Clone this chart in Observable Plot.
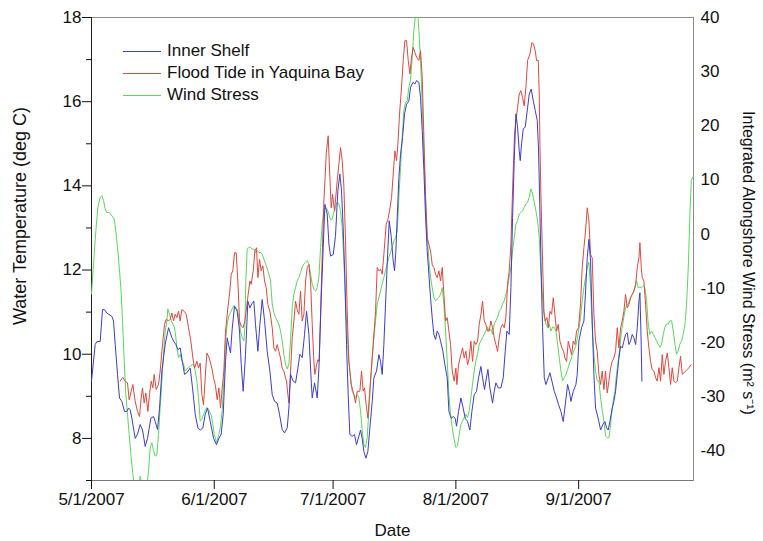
<!DOCTYPE html>
<html><head><meta charset="utf-8">
<script src="https://cdn.jsdelivr.net/npm/d3@7"></script>
<script src="https://cdn.jsdelivr.net/npm/@observablehq/plot@0.6"></script>
<style>
body{margin:0;background:#fff;font-family:"Liberation Sans",Arial,sans-serif;}
#wrap{position:relative;width:763px;height:541px;}
.legend{position:absolute;left:123px;top:40px;font-size:17px;color:#111;line-height:22px;}
.legend .row{display:flex;align-items:center;height:22px;}
.legend .sw{display:inline-block;width:38px;height:0;border-top:1px solid;margin-right:6px;}
</style>
</head><body>
<div id="wrap"></div>
<script>
// ---- data (day offsets from 5/1/2007) ----
const seriesNames = ["Inner Shelf", "Flood Tide in Yaquina Bay", "Wind Stress"];
const monthTicks = ["2007-05-01", "2007-06-01", "2007-07-01", "2007-08-01", "2007-09-01"];
const tempMajorTicks = [8, 10, 12, 14, 16, 18];
const tempMinorTicks = [7, 9, 11, 13, 15, 17];
const windTicks = [-40, -30, -20, -10, 0, 10, 20, 30, 40];

const innerShelfDay = [0,0.93,1.35,2.19,2.78,3.28,3.87,5.14,5.56,5.98,6.57,7.07,7.66,8.34,8.93,9.35,9.77,10.19,11.03,11.62,12.29,12.88,13.56,14.14,14.99,15.66,16.08,16.67,17.18,17.77,18.61,19.45,20.29,20.71,21.3,21.81,22.4,22.99,23.49,24.08,24.92,25.51,26.19,26.86,27.45,28.12,28.71,29.3,29.98,30.82,31.57,32.16,32.74,33.25,33.84,34.26,34.68,35.1,35.52,36.11,36.79,37.38,37.8,38.3,38.89,39.48,39.99,40.49,40.99,41.42,42.01,42.51,43.1,43.69,44.36,45.04,45.63,46.22,46.89,47.48,48.15,48.74,49.42,49.84,50.26,50.93,51.52,52.11,52.62,53.2,53.79,54.3,54.89,55.48,55.73,56.32,56.99,57.42,58.0,58.51,58.93,59.52,59.94,60.36,61.04,61.6,62.2,62.71,63.13,63.55,63.97,64.39,64.81,65.23,65.82,66.41,66.92,67.51,67.93,68.35,68.77,69.28,69.78,70.29,70.88,71.3,71.97,72.56,72.98,73.4,73.82,74.24,74.66,75.17,75.67,76.18,76.52,76.85,77.19,77.61,78.03,78.54,79.04,79.55,80.14,80.56,81.15,81.65,82.07,82.66,83.08,83.5,83.93,84.35,84.77,85.19,85.61,86.03,86.45,86.87,87.29,87.72,88.14,88.73,89.23,89.82,90.24,90.83,91.34,91.83,92.17,92.68,93.27,93.85,94.36,94.95,95.54,96.04,96.63,97.22,97.73,98.32,98.74,99.24,99.58,100.09,100.59,101.26,101.69,102.11,102.7,103.37,103.96,104.46,104.88,105.47,105.9,106.32,106.74,107.16,107.58,108.0,108.25,108.59,109.01,109.52,110.11,110.53,111.03,111.54,112.04,112.55,112.88,113.22,113.56,113.89,114.32,114.74,115.33,115.75,116.25,116.84,117.43,117.94,118.53,119.11,119.62,120.21,120.63,121.05,121.64,122.31,122.64,123.06,123.74,124.33,124.75,125.17,125.59,126.01,126.43,126.85,127.27,127.69,128.11,128.54,129.12,129.63,130.05,130.47,130.89,131.48,131.9,132.32,132.75,133.17,133.59,134.01,134.43,134.85,135.27,135.69,136.11,136.53,136.96,137.38,137.8,138.22,138.47,138.72,138.98];
const innerShelfTemp = [9.36,10.23,10.3,10.3,11.06,11.06,10.98,10.9,10.79,10.24,9.52,8.96,8.88,8.64,8.64,8.72,8.68,8.48,8.0,8.1,8.33,8.2,7.81,8.0,8.48,8.52,8.4,8.21,8.72,9.6,10.24,10.63,10.4,10.31,10.23,10.11,10.15,9.8,9.52,9.56,9.67,9.2,8.57,8.25,8.2,8.25,8.57,8.72,8.4,8.0,7.85,8.0,8.1,8.57,9.83,10.39,10.2,10.03,10.6,11.14,11.02,10.55,9.76,9.12,10.0,11.26,11.1,11.2,11.26,10.7,10.07,10.7,11.3,10.8,10.07,9.6,9.04,8.88,8.84,8.57,8.21,8.13,8.25,8.72,9.52,9.36,9.32,9.67,10.0,9.92,10.47,11.02,10.47,9.36,8.96,9.32,8.96,9.67,11.34,12.53,13.56,13.33,12.62,12.33,12.37,12.8,13.88,14.28,13.88,13.0,11.82,10.23,9.04,8.09,8.05,8.09,7.85,8.05,8.2,8.0,7.69,7.53,7.69,8.25,8.88,9.44,9.6,9.99,9.83,9.52,10.23,11.18,12.13,13.17,12.8,12.21,11.98,12.45,13.25,14.2,14.75,15.15,15.71,15.94,16.02,16.34,16.46,16.42,16.5,16.46,16.1,15.31,14.36,13.25,12.45,11.9,11.34,10.86,10.47,10.35,10.55,10.47,10.31,10.07,9.75,9.44,8.64,8.48,8.52,8.48,8.29,8.64,8.96,8.72,8.48,8.4,8.2,8.64,9.04,9.12,9.44,9.71,9.44,9.16,9.36,9.64,9.2,8.84,9.12,9.32,9.2,9.2,9.44,10.07,10.55,10.47,11.58,13.25,14.6,15.71,15.4,14.83,14.6,15.0,15.35,15.4,15.86,16.18,16.3,16.02,15.79,15.55,14.83,13.4,11.82,10.63,9.44,9.28,9.44,9.56,9.36,9.12,8.96,8.8,8.64,8.4,8.8,9.28,9.12,8.88,9.12,9.28,9.52,10.31,10.63,10.79,11.5,12.29,12.73,12.21,10.79,9.52,8.72,8.57,8.4,8.2,8.33,8.4,8.25,8.2,8.4,8.72,8.88,9.12,9.52,9.91,10.19,10.15,10.31,10.47,10.51,10.23,10.31,10.47,10.39,10.23,10.63,11.26,11.46,10.55,9.36];

const floodTideDay = [7.24,7.91,8.5,9.09,9.51,10.02,10.44,11.03,11.62,12.12,12.54,12.88,13.3,13.72,14.23,14.65,15.07,15.49,15.83,16.33,16.92,17.34,17.77,18.44,18.86,19.45,19.87,20.29,20.71,21.13,21.55,21.98,22.4,22.82,23.41,23.91,24.5,25.09,25.6,26.02,26.61,27.03,27.45,27.87,28.29,28.71,29.13,29.72,30.39,30.82,31.3,31.73,32.16,32.58,33.0,33.42,33.84,34.43,34.93,35.27,35.69,36.11,36.53,36.95,37.38,37.8,38.3,38.72,39.14,39.56,39.99,40.32,40.83,41.25,41.67,42.01,42.43,42.85,43.27,43.69,44.11,44.53,45.04,45.63,46.05,46.47,46.89,47.31,47.73,48.15,48.57,48.99,49.25,49.58,49.84,50.26,50.68,51.1,51.52,51.94,52.36,52.78,53.2,53.63,54.05,54.47,54.89,55.31,55.73,56.15,56.4,56.83,57.16,57.5,57.84,58.26,58.68,58.93,59.3,59.76,60.1,60.52,60.86,61.36,62.04,62.88,63.3,63.72,64.14,64.56,64.98,65.57,66.24,66.67,67.09,67.76,68.18,68.6,68.94,69.36,69.78,70.2,70.62,71.13,71.72,72.14,72.56,72.98,73.4,73.82,74.41,74.83,75.25,75.76,76.18,76.6,77.02,77.36,77.78,78.28,78.71,79.13,79.55,79.97,80.39,80.81,81.23,81.65,82.07,82.66,83.08,83.5,83.93,84.35,84.77,85.19,85.61,86.03,86.45,86.87,87.29,87.72,88.14,88.56,88.98,89.4,89.82,90.24,90.66,91.08,91.58,92.0,92.25,92.68,93.27,93.69,94.11,94.53,94.95,95.37,95.79,96.21,96.63,97.05,97.47,97.9,98.32,98.74,99.16,99.58,100.0,100.42,100.84,101.26,101.69,102.11,102.53,102.95,103.37,103.79,104.21,104.63,105.05,105.47,105.9,106.15,106.48,106.82,107.16,107.58,108.0,108.42,108.84,109.26,109.68,110.11,110.69,111.2,111.62,112.04,112.38,112.8,113.05,113.22,113.47,113.89,114.23,114.57,114.99,115.33,115.75,116.17,116.59,117.01,117.43,117.85,118.27,118.78,119.2,119.54,119.96,120.38,120.8,121.22,121.64,122.06,122.48,122.99,123.48,123.9,124.33,124.75,125.17,125.59,126.01,126.43,126.85,127.27,127.69,128.11,128.54,128.96,129.38,129.8,130.22,130.64,131.06,131.48,131.9,132.32,132.75,133.17,133.59,134.01,134.43,134.85,135.27,135.69,136.11,136.53,136.96,137.38,137.8,138.22,138.47,138.81,139.06,139.48,139.9,140.32,140.74,141.16,141.58,142.0,142.43,142.85,143.27,143.69,144.11,144.53,144.95,145.38,145.8,146.22,146.64,147.06,147.48,147.9,148.32,148.74,149.17,149.59,150.01,150.43,150.85,151.35];
const floodTideTemp = [9.36,9.45,9.36,9.32,8.92,9.12,9.28,8.88,8.64,8.52,8.96,9.2,8.84,9.08,8.64,9.04,9.36,9.2,9.52,9.16,9.28,9.6,10.07,10.71,10.83,10.79,10.83,10.98,10.79,10.95,10.87,11.02,10.79,11.06,11.02,10.95,10.63,10.31,9.91,9.67,9.83,9.67,9.79,9.04,8.8,9.44,10.03,9.91,9.67,9.44,9.25,8.92,9.2,8.72,9.2,9.6,10.55,11.1,11.5,11.9,11.98,12.41,12.41,11.74,10.79,10.67,10.63,10.79,11.1,11.42,11.74,11.66,11.98,12.45,12.53,11.82,12.25,11.98,12.1,11.74,11.58,11.18,11.02,10.63,10.15,10.07,10.23,10.07,9.91,9.67,9.6,9.44,9.36,9.04,8.84,9.6,10.39,10.79,11.26,11.06,10.95,11.5,10.79,10.95,11.74,12.06,12.13,11.74,10.71,9.83,9.52,9.75,9.87,9.83,10.95,12.37,13.64,14.12,14.8,15.19,14.4,13.48,13.8,13.4,14.12,14.91,14.6,14.0,12.7,11.02,9.83,9.28,9.04,8.84,9.12,9.12,9.6,9.12,9.2,8.8,8.48,9.04,9.6,10.23,11.02,12.06,11.98,12.02,11.9,12.37,13.09,13.2,13.4,13.72,14.28,14.83,14.6,14.99,15.71,16.34,16.98,17.45,17.45,16.98,16.66,17.06,17.29,17.17,17.06,16.98,17.21,16.58,15.15,13.72,12.77,12.61,12.45,12.13,12.06,11.9,11.82,11.98,11.74,12.06,11.42,10.79,10.87,10.55,10.23,9.6,9.36,9.67,9.28,9.75,9.99,10.15,9.91,10.07,9.75,9.91,10.31,9.83,10.31,10.23,10.31,10.71,10.95,11.26,10.79,10.71,10.55,10.55,10.79,10.63,10.39,10.23,10.07,10.39,10.63,10.71,10.63,10.87,11.66,11.98,12.61,13.4,14.36,15.23,15.55,15.86,16.18,16.26,16.1,15.9,16.34,16.98,17.13,17.41,17.37,17.21,16.98,16.98,16.18,14.99,13.8,12.21,11.02,10.79,10.87,10.63,11.02,10.95,11.34,10.95,10.55,10.71,10.31,10.15,10.07,9.91,9.83,10.31,10.15,9.99,10.31,10.23,10.55,10.63,11.2,12.06,12.53,12.93,13.48,13.17,12.37,12.29,10.95,10.31,10.07,9.52,9.28,9.6,9.16,9.6,9.08,9.36,9.67,9.83,9.91,10.07,10.63,10.15,10.63,10.79,11.02,11.42,11.1,11.18,11.34,11.42,11.5,11.66,12.06,12.29,12.65,12.06,11.82,11.74,11.18,10.55,10.15,9.83,9.63,9.6,9.44,9.36,9.68,9.36,9.99,9.52,9.83,10.03,9.68,9.28,9.68,9.36,9.32,9.36,9.68,9.95,9.52,9.56,9.6,9.64,9.68,9.75];

const windStressDay = [0,0.51,1.09,1.6,2.19,2.61,3.03,3.45,3.87,4.46,5.14,5.73,6.15,6.82,7.41,7.83,8.25,8.67,9.09,9.51,10.02,10.44,10.86,11.4,11.9,12.29,12.71,13.56,13.98,14.4,14.82,15.24,15.66,16.08,16.5,16.92,17.34,17.77,18.19,18.61,19.03,19.28,19.7,20.12,20.54,20.96,21.3,21.55,21.98,22.4,22.82,23.24,23.66,24.5,25.09,25.6,26.02,26.61,27.03,27.45,27.87,28.29,28.71,29.13,29.72,30.23,30.6,31.0,31.57,32.16,32.58,33.0,33.42,33.84,34.26,34.68,35.1,35.52,35.94,36.36,36.79,37.21,37.63,38.05,38.47,38.72,38.97,39.31,39.73,40.15,40.57,40.99,41.42,41.84,42.26,42.68,43.1,43.52,43.94,44.36,44.78,45.2,45.63,46.05,46.47,46.89,47.31,47.73,48.15,48.57,48.99,49.42,49.84,50.26,50.68,51.1,51.52,51.94,52.36,52.78,53.2,53.63,54.05,54.47,54.89,55.31,55.73,56.15,56.57,56.99,57.42,57.84,58.26,58.68,59.1,59.52,59.94,60.36,60.78,61.2,61.63,62.03,62.46,62.88,63.3,63.72,64.14,64.56,64.98,65.4,65.82,66.24,66.67,67.09,67.51,67.93,68.35,68.77,69.19,69.61,70.03,70.45,70.88,71.3,71.72,72.14,72.56,72.98,73.4,73.82,74.24,74.66,75.08,75.5,75.92,76.35,76.77,77.19,77.61,78.03,78.45,78.87,79.3,79.72,80.14,80.56,80.98,81.4,81.82,82.07,82.41,82.66,83.08,83.5,83.93,84.35,84.77,85.19,85.61,86.03,86.45,86.87,87.29,87.72,88.14,88.56,88.98,89.4,89.82,90.24,90.66,91.08,91.5,92.0,92.42,92.84,93.27,93.69,94.11,94.53,94.95,95.37,95.79,96.21,96.63,97.05,97.47,97.9,98.32,98.74,99.16,99.58,100.0,100.42,100.84,101.26,101.69,102.11,102.53,102.95,103.37,103.79,104.21,104.63,105.05,105.47,105.9,106.32,106.74,107.16,107.58,108.0,108.42,108.84,109.26,109.68,110.11,110.53,110.95,111.37,111.79,112.21,112.63,113.05,113.47,113.89,114.32,114.74,115.16,115.58,116.0,116.42,116.84,117.26,117.68,118.1,118.53,118.95,119.37,119.79,120.21,120.63,121.05,121.47,121.89,122.22,122.64,123.06,123.48,123.9,124.33,124.75,125.17,125.59,126.01,126.43,126.85,127.27,127.69,128.11,128.54,128.96,129.38,129.8,130.22,130.64,130.89,131.31,131.73,132.15,132.57,132.99,133.41,133.84,134.26,134.68,135.1,135.52,135.94,136.36,136.78,137.2,137.63,138.05,138.47,138.89,139.31,139.73,140.15,140.57,140.99,141.41,141.83,142.25,142.68,143.1,143.52,143.94,144.36,144.78,145.2,145.62,146.05,146.47,146.89,147.31,147.73,148.15,148.57,148.99,149.42,149.84,150.26,150.68,151.1,151.44,151.8];
const windStressValue = [-11.07,-5.5,0.55,4.94,6.8,7.1,6.2,4.64,4.0,4.0,3.4,2.8,0.55,-4.4,-9.9,-16.0,-23.4,-29.6,-33.3,-37.0,-41.3,-44.3,-46.5,-48,-47,-44.7,-46.5,-48,-46.5,-43.7,-39.4,-38.5,-40.0,-41.0,-40.8,-37.0,-32.0,-27.1,-22.2,-17.9,-16.0,-13.8,-14.8,-16.0,-16.6,-17.2,-19.1,-20.9,-22.8,-22.2,-23.4,-24.0,-25.3,-24.6,-24.3,-24.0,-24.6,-27.1,-30.2,-34.5,-34.2,-33.3,-32.6,-32.0,-32.6,-33.5,-35.0,-37.0,-38.5,-37.0,-35.4,-32.6,-27.1,-19.7,-16.6,-15.1,-14.5,-13.8,-13.2,-13.5,-13.8,-15.4,-17.9,-19.1,-19.7,-17.2,-8.6,-2.76,-2.45,-2.45,-2.76,-2.76,-3.4,-3.1,-3.4,-3.4,-3.7,-4.6,-5.5,-6.4,-7.4,-8.6,-12.9,-14.5,-15.4,-16.0,-16.6,-17.9,-19.7,-22.2,-24.0,-24.9,-24.0,-19.7,-13.5,-11.1,-9.9,-8.6,-8.0,-7.1,-6.1,-5.5,-5.2,-4.9,-5.5,-7.4,-9.2,-10.2,-10.5,-9.9,-8.0,-2.45,1.87,4.33,4.94,4.6,3.7,2.65,2.8,4.0,5.1,5.9,5.56,4.33,1.2,-4.9,-12.3,-18.5,-23.4,-26.5,-29.0,-29.6,-30.2,-29.6,-30.2,-32.6,-36.3,-38.8,-39.4,-37.6,-32.6,-27.7,-22.8,-19.1,-16.0,-12.9,-11.7,-10.5,-9.2,-8.0,-6.7,-5.5,-4.3,-3.4,-2.5,-1.3,-0.7,0.55,6.8,12.3,17.9,22.8,24.3,24.6,27.1,28.4,32.7,37.6,40.5,42,40.5,37.6,32.1,24.0,14.8,6.8,0,-4.9,-8.0,-9.9,-11.7,-12.3,-12.0,-11.7,-11.1,-9.9,-12.9,-17.9,-23.4,-29.6,-33.3,-35.7,-37.6,-39.4,-39.1,-37.0,-35.1,-34.5,-33.9,-33.3,-33.9,-32.6,-30.2,-27.7,-25.3,-23.4,-22.2,-20.3,-19.7,-19.1,-18.5,-17.9,-17.2,-17.9,-17.6,-18.5,-16.6,-16.0,-15.4,-14.2,-13.9,-12.9,-12.3,-11.1,-9.9,-8.0,-6.1,-3.1,-0.6,1.87,2.5,3.7,4.0,4.33,4.94,5.56,5.9,6.8,8.34,7.4,5.9,4.33,2.5,-0.6,-6.8,-11.7,-15.4,-16.6,-17.2,-16.6,-17.9,-17.2,-17.2,-17.9,-20.3,-22.8,-25.3,-27.1,-26.5,-25.9,-25.0,-24.0,-23.1,-22.2,-21.3,-20.8,-19.4,-17.5,-15.4,-12.3,-9.9,-8.0,-6.1,-5.2,-9.9,-17.2,-22.2,-25.3,-27.1,-27.1,-30.2,-32.6,-34.5,-37.3,-37.6,-37.6,-36.4,-33.3,-30.8,-29.0,-25.9,-23.4,-20.9,-17.9,-16.0,-14.2,-13.2,-12.9,-12.0,-11.4,-10.7,-9.9,-8.6,-9.9,-9.8,-9.9,-9.6,-9.9,-12.3,-16.6,-18.5,-17.9,-18.5,-19.1,-19.7,-20.3,-20.9,-20.3,-18.5,-17.2,-16.6,-16.6,-16.0,-16.0,-17.9,-20.3,-22.2,-21.5,-20.3,-19.7,-18.5,-16.6,-12.9,-6.1,3.7,9.9,10.5];

const seriesColors = ["#3c3cd2", "#e0483e", "#5ad85a"];

// ---- build ----
const START = Date.UTC(2007, 4, 1), DAY = 864e5;
const toDate = d => new Date(START + d * DAY);
const rows = (days, vals) => days.map((d, i) => ({date: toDate(d), value: vals[i]}));
const T0 = 7, T1 = 18, W0 = -45.5, W1 = 40;
const toTemp = w => T0 + (w - W0) * (T1 - T0) / (W1 - W0);
const fromTemp = t => W0 + (t - T0) * (W1 - W0) / (T1 - T0);
const fmtDate = d => `${d.getUTCMonth() + 1}/${d.getUTCDate()}/${d.getUTCFullYear()}`;

const inner = rows(innerShelfDay, innerShelfTemp);
const flood = rows(floodTideDay, floodTideTemp);
const wind = rows(windStressDay, windStressValue);

const chart = Plot.plot({
  width: 763, height: 541,
  marginLeft: 91, marginRight: 70, marginTop: 17, marginBottom: 61,
  style: {fontFamily: "'Liberation Sans', Arial, sans-serif", fontSize: "17px", color: "#111", background: "#fff"},
  x: {type: "utc", domain: [toDate(0), toDate(152)], label: null},
  y: {domain: [T0, T1], label: null},
  marks: [
    Plot.frame({stroke: "#8c8c8c"}),
    Plot.ruleX([toDate(0)], {stroke: "#222"}),
    Plot.ruleY([T0], {stroke: "#777"}),
    Plot.axisY(tempMajorTicks, {anchor: "left", tickSize: 9, tickPadding: 1, tickFormat: d => String(d), label: null}),
    Plot.axisY(tempMinorTicks, {anchor: "left", tickSize: 5, tickFormat: () => "", label: null}),
    Plot.axisY(windTicks.map(toTemp), {anchor: "right", tickSize: 0, tickPadding: 7, tickFormat: t => String(Math.round(fromTemp(t))), label: null}),
    Plot.axisX(monthTicks.map(s => new Date(s + "T00:00:00Z")), {anchor: "bottom", tickSize: 9, tickPadding: 3, tickFormat: fmtDate, label: null}),
    Plot.line(wind, {x: "date", y: d => toTemp(d.value), stroke: seriesColors[2], strokeWidth: 1, clip: true}),
    Plot.line(flood, {x: "date", y: "value", stroke: seriesColors[1], strokeWidth: 1, clip: true}),
    Plot.line(inner, {x: "date", y: "value", stroke: seriesColors[0], strokeWidth: 1, clip: true}),
    Plot.text(["Water Temperature (deg C)"], {text: d => d, frameAnchor: "left", dx: -71, dy: -33, rotate: -90, textAnchor: "middle", lineAnchor: "middle", fontSize: 18}),
    Plot.text(["Integrated Alongshore Wind Stress (m² s⁻¹)"], {text: d => d, frameAnchor: "right", dx: 55, dy: 14, rotate: 90, textAnchor: "middle", lineAnchor: "middle", fontSize: 16}),
    Plot.text(["Date"], {text: d => d, frameAnchor: "bottom", dy: 50, textAnchor: "middle", lineAnchor: "middle", fontSize: 17})
  ]
});

const wrap = document.getElementById("wrap");
wrap.appendChild(chart);
const legend = document.createElement("div");
legend.className = "legend";
seriesNames.forEach((name, i) => {
  const row = document.createElement("div");
  row.className = "row";
  const sw = document.createElement("span");
  sw.className = "sw";
  sw.style.borderTopColor = seriesColors[i];
  const tx = document.createElement("span");
  tx.textContent = name;
  row.appendChild(sw); row.appendChild(tx);
  legend.appendChild(row);
});
wrap.appendChild(legend);
</script>
</body></html>
